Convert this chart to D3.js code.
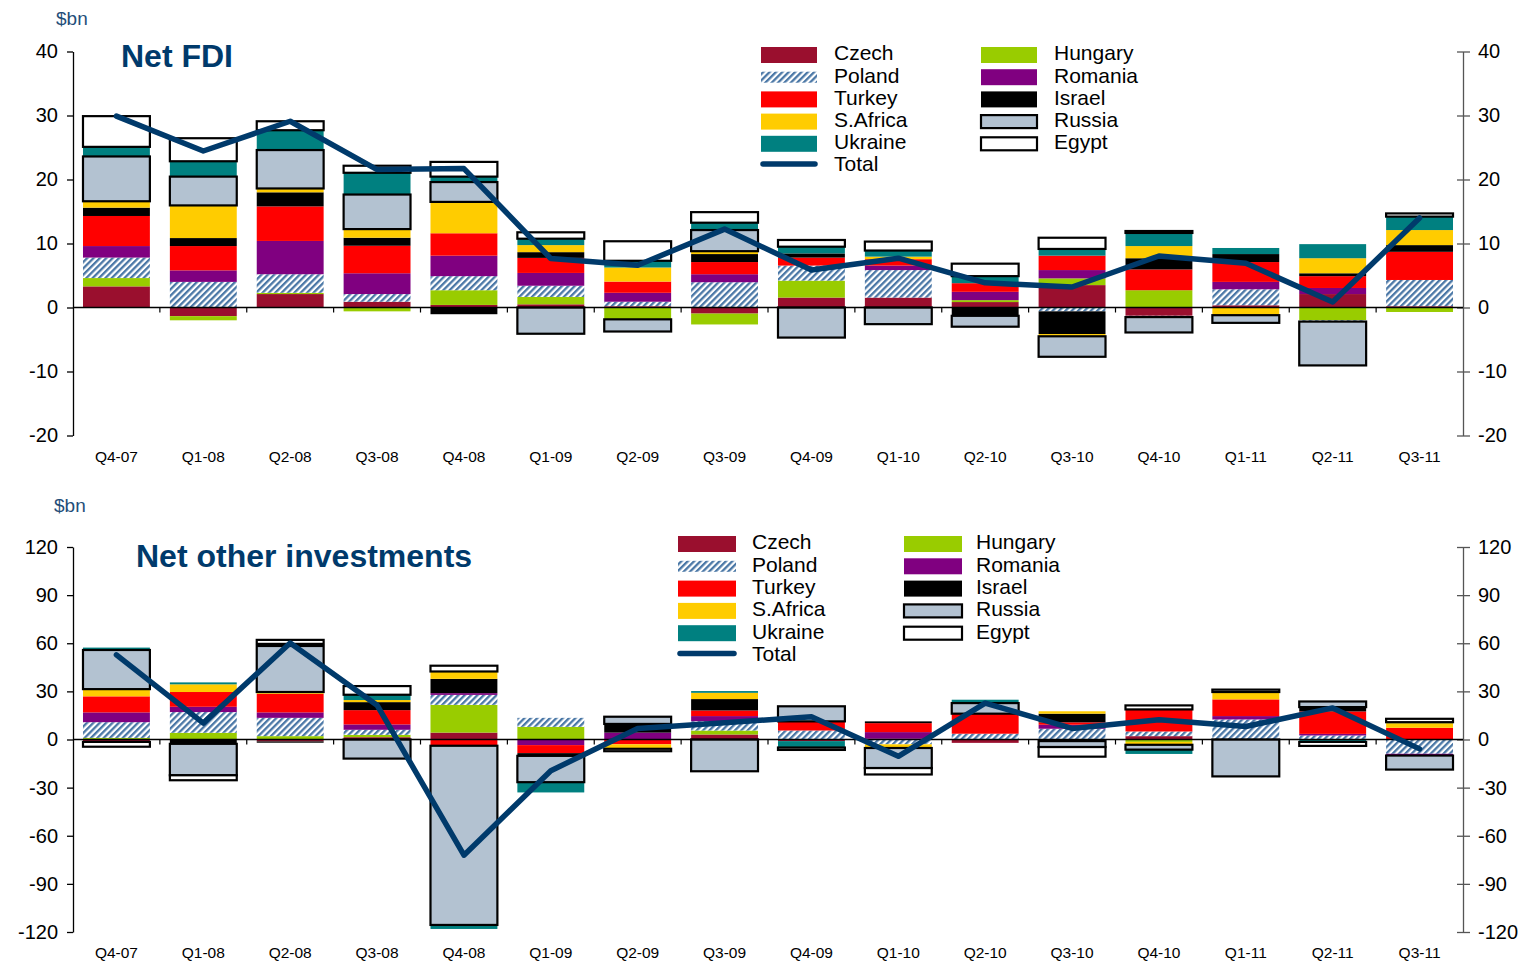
<!DOCTYPE html>
<html><head><meta charset="utf-8">
<script src="https://cdn.jsdelivr.net/npm/d3@7"></script>
<style>body{margin:0;background:#fff;} svg{display:block;font-family:"Liberation Sans",Arial,sans-serif;}</style>
</head><body><svg id="c" width="1524" height="962"></svg>
<script>
const categories = ["Q4-07","Q1-08","Q2-08","Q3-08","Q4-08","Q1-09","Q2-09","Q3-09","Q4-09","Q1-10","Q2-10","Q3-10","Q4-10","Q1-11","Q2-11","Q3-11"];
const seriesNames = ["Czech","Hungary","Poland","Romania","Turkey","Israel","S.Africa","Russia","Ukraine","Egypt"];

// Net FDI ($bn)
const fdiCzech    = [3.3,-1.35,2.1,0.9,0.4,0.5,0.2,-0.95,1.55,1.55,0.85,3.5,-1.3,0.35,2.1,0.2];
const fdiHungary  = [1.3,-0.65,0.2,-0.6,2.3,1.15,-1.85,-1.7,2.65,0,0.3,1.05,2.7,0,-2.0,-0.7];
const fdiPoland   = [3.2,4.0,2.9,1.2,2.2,1.75,0.7,3.95,2.35,4.3,0,-0.6,-0.2,2.5,-0.2,4.1];
const fdiRomania  = [1.8,1.8,5.2,3.25,3.2,2.0,1.4,1.25,0,0.7,1.3,1.3,0,1.15,0.95,0];
const fdiTurkey   = [4.7,3.8,5.4,4.3,3.5,2.35,1.75,1.9,1.25,1.0,1.35,2.25,3.25,3.1,1.85,4.4];
const fdiIsrael   = [1.3,1.25,2.2,1.25,-1.05,0.9,0,1.25,0.65,0,-1.3,-3.55,1.75,1.25,0.45,1.05];
const fdiSAfrica  = [1.0,5.1,0.6,1.35,4.9,1.1,2.2,0.45,0,0.4,0,-0.35,1.9,-1.2,2.35,2.35];
const fdiRussia   = [7.0,4.5,6.0,5.4,3.1,-4.1,-1.9,3.3,-4.7,-2.6,-1.7,-3.2,-2.4,-1.2,-6.85,0];
const fdiUkraine  = [1.5,2.4,3.1,3.4,0.85,1.0,1.05,1.15,1.05,0.95,1.1,1.05,2.05,0.95,2.2,2.1];
const fdiEgypt    = [4.8,3.6,1.4,1.1,2.3,1.0,3.05,1.65,1.05,1.4,1.95,1.75,0.3,0,0,0.5];

// Net other investments ($bn)
const oiCzech    = [-1.5,0,-1.2,1.45,4.3,0,0,3.1,-1.0,0.5,-2.1,-1.0,2.1,0,0,0];
const oiHungary  = [1.0,4.2,2.1,1.45,17.3,7.9,0,2.5,0,0,0,0,-1.5,0,0,0];
const oiPoland   = [9.8,12.9,11.4,3.15,6.2,5.6,0,5.8,5.6,-3.0,3.6,6.7,2.9,12.5,2.5,-8.9];
const oiRomania  = [6.1,3.3,3.4,3.35,1.1,-3.5,4.3,3.2,0,4.1,0,2.5,0,2.1,1.0,-1.1];
const oiTurkey   = [10,9.2,11.6,8.9,-3.9,-5.0,-3.0,3.5,5.7,5.6,12.5,1.5,13.75,10.4,14,7.3];
const oiIsrael   = [0,-2.7,-0.8,5.0,8.9,-1.7,5.4,7.1,0,1.1,0,5.4,0,0,2.7,0];
const oiSAfrica  = [4.5,4.8,1.1,1.3,4.6,0,-2.8,3.9,0,-2.3,0,1.5,-1.8,4.6,0,2.9];
const oiRussia   = [24.4,-19.6,28.7,-11.9,-111.7,-16.4,4.5,-19.8,9.4,-12.5,6.6,-3.7,-3.0,-23,3.5,-8.75];
const oiUkraine  = [1.5,1.2,1.3,3.3,-2.5,-6.4,0,1.1,-4.0,0,2.1,0,-2.7,0,-1.5,0.6];
const oiEgypt    = [-3,-3.1,2.5,5.4,3.6,0,-1.5,0,-1.5,-4.0,0,-6,2.5,1.5,-2.5,2.1];

const fdiTicks = [40,30,20,10,0,-10,-20];
const oiTicks = [120,90,60,30,0,-30,-60,-90,-120];

const colors = {"Czech":"#9a0f2e","Hungary":"#99cc00","Poland":"url(#hatch)","Romania":"#800080","Turkey":"#ff0000",
  "Israel":"#000000","S.Africa":"#ffcc00","Russia":"#b3c2d1","Ukraine":"#008080","Egypt":"#ffffff"};
const boxed = {"Russia":true,"Egypt":true};
const lineColor = "#003a6b";
const titleColor = "#003a6b";

const svg = d3.select("#c");
const defs = svg.append("defs");
const pat = defs.append("pattern").attr("id","hatch").attr("patternUnits","userSpaceOnUse")
  .attr("width",4.5).attr("height",4.5).attr("patternTransform","rotate(45)");
pat.append("rect").attr("width",4.5).attr("height",4.5).attr("fill","#ffffff");
pat.append("rect").attr("width",2.3).attr("height",4.5).attr("fill","#4a77a6");

const x = d3.scaleBand().domain(categories).range([73,1463]).paddingInner(0.23).paddingOuter(0.115);

function drawPanel(cfg){
  const g = svg.append("g");
  const y = d3.scaleLinear().domain([cfg.ticks[cfg.ticks.length-1], cfg.ticks[0]]).range([cfg.bottom, cfg.top]);
  const data = {};
  seriesNames.forEach((s,i)=>data[s]=cfg.series[i]);

  const segs = [];
  categories.forEach((c,ci)=>{
    let pos=0, neg=0;
    seriesNames.forEach(s=>{
      const v = data[s][ci];
      if(!v) return;
      if(v>0){ segs.push({c,s,y0:pos,y1:pos+v}); pos+=v; }
      else { segs.push({c,s,y0:neg,y1:neg+v}); neg+=v; }
    });
  });
  const plain = segs.filter(d=>!boxed[d.s]);
  const box = segs.filter(d=>boxed[d.s]);
  g.selectAll("rect.p").data(plain).join("rect").attr("class","p")
    .attr("x",d=>x(d.c)).attr("width",x.bandwidth())
    .attr("y",d=>y(Math.max(d.y0,d.y1))).attr("height",d=>Math.abs(y(d.y0)-y(d.y1)))
    .attr("fill",d=>colors[d.s]);
  g.selectAll("rect.b").data(box).join("rect").attr("class","b")
    .attr("x",d=>x(d.c)).attr("width",x.bandwidth())
    .attr("y",d=>y(Math.max(d.y0,d.y1))).attr("height",d=>Math.abs(y(d.y0)-y(d.y1)))
    .attr("fill",d=>colors[d.s]).attr("stroke","#000").attr("stroke-width",2.2);

  const fmt = d => String(d);
  const yl = d3.axisLeft(y).tickValues(cfg.ticks).tickFormat(fmt).tickSizeInner(6).tickSizeOuter(0).tickPadding(9);
  const ga = g.append("g").attr("transform","translate(73,0)").call(yl);
  ga.selectAll("text").attr("font-size",20).attr("font-family","Liberation Sans, Arial").attr("fill","#000");
  ga.selectAll("line,path").attr("stroke","#000").attr("stroke-width",1.3);
  const yr = d3.axisRight(y).tickValues(cfg.ticks).tickFormat(fmt).tickSizeInner(7).tickSizeOuter(0).tickPadding(8);
  const gr = g.append("g").attr("transform","translate(1463,0)").call(yr);
  gr.selectAll(".tick line").attr("x1",-6);
  gr.selectAll("text").attr("font-size",20).attr("font-family","Liberation Sans, Arial").attr("fill","#000");
  gr.selectAll("line,path").attr("stroke","#555").attr("stroke-width",1.3);

  const y0 = y(0);
  g.append("line").attr("x1",73).attr("x2",1463).attr("y1",y0).attr("y2",y0).attr("stroke","#000").attr("stroke-width",1.6);
  g.selectAll("line.ct").data(d3.range(1,16)).join("line").attr("class","ct")
    .attr("x1",k=>73+k*x.step()).attr("x2",k=>73+k*x.step()).attr("y1",y0).attr("y2",y0+5)
    .attr("stroke","#000").attr("stroke-width",1.2);

  g.selectAll("text.xl").data(categories).join("text").attr("class","xl")
    .attr("x",d=>x(d)+x.bandwidth()/2).attr("y",cfg.xlabY).attr("text-anchor","middle")
    .attr("font-size",15.5).attr("fill","#000").text(d=>d);

  const totals = categories.map((c,ci)=>d3.sum(seriesNames,s=>data[s][ci]));
  g.append("path").datum(totals).attr("fill","none").attr("stroke",lineColor).attr("stroke-width",5.5)
    .attr("stroke-linejoin","round").attr("stroke-linecap","round")
    .attr("d",d3.line().x((d,i)=>x(categories[i])+x.bandwidth()/2).y(d=>y(d)));

  g.append("text").attr("x",cfg.unitX).attr("y",cfg.unitY).attr("font-size",19).attr("fill","#1f4e79").text("$bn");
  g.append("text").attr("x",cfg.titleX).attr("y",cfg.titleY).attr("font-size",32).attr("font-weight","bold")
    .attr("fill",titleColor).text(cfg.title);

  const col1 = ["Czech","Poland","Turkey","S.Africa","Ukraine","Total"];
  const col2 = ["Hungary","Romania","Israel","Russia","Egypt"];
  const L = cfg.legend;
  function item(name, sx, tx, cy){
    if(name==="Total"){
      g.append("line").attr("x1",sx+2).attr("x2",sx+L.sw-2).attr("y1",cy).attr("y2",cy)
        .attr("stroke",lineColor).attr("stroke-width",5.5).attr("stroke-linecap","round");
    } else {
      const h = name==="Poland" ? 11 : (boxed[name] ? 13 : 16);
      const r = g.append("rect").attr("x",sx).attr("y",cy+2-h/2).attr("width",L.sw).attr("height",h).attr("fill",colors[name]);
      if(boxed[name]) r.attr("stroke","#000").attr("stroke-width",2.2);
    }
    g.append("text").attr("x",tx).attr("y",cy).attr("dy","0.35em").attr("font-size",21).attr("fill","#000").text(name);
  }
  col1.forEach((n,i)=>item(n, L.x1, L.t1, L.y + i*L.dy));
  col2.forEach((n,i)=>item(n, L.x2, L.t2, L.y + i*L.dy));
}

drawPanel({series:[fdiCzech,fdiHungary,fdiPoland,fdiRomania,fdiTurkey,fdiIsrael,fdiSAfrica,fdiRussia,fdiUkraine,fdiEgypt],
  ticks:fdiTicks, top:51.5, bottom:435.5, xlabY:462, title:"Net FDI", titleX:121, titleY:67, unitX:56, unitY:25,
  legend:{x1:761,t1:834,x2:981,t2:1054,sw:56,y:53,dy:22.2}});
drawPanel({series:[oiCzech,oiHungary,oiPoland,oiRomania,oiTurkey,oiIsrael,oiSAfrica,oiRussia,oiUkraine,oiEgypt],
  ticks:oiTicks, top:547, bottom:932, xlabY:958, title:"Net other investments", titleX:136, titleY:567, unitX:54, unitY:512,
  legend:{x1:678,t1:752,x2:904,t2:976,sw:58,y:542,dy:22.3}});
</script>
</body></html>
